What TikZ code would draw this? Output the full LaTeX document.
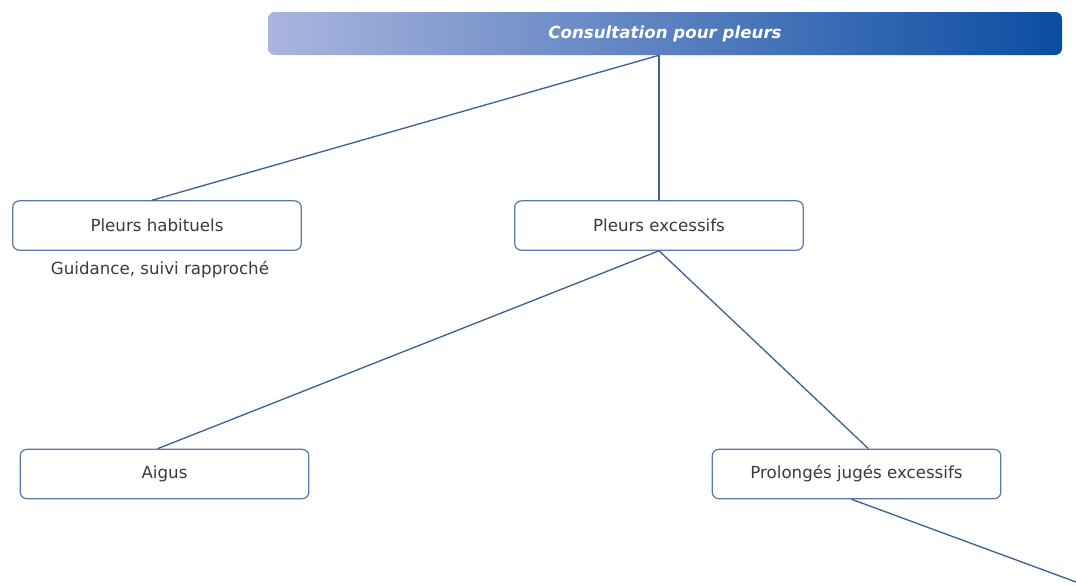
\documentclass[tikz,border=0pt]{standalone}
\usepackage{fontspec}
\setmainfont{DejaVu Sans}
\usetikzlibrary{calc}
\definecolor{barleft}{HTML}{AAB5DE}
\definecolor{barright}{HTML}{0B4DA2}
\definecolor{boxline}{HTML}{5B78A6}
\definecolor{linkline}{HTML}{3E6198}
\definecolor{txt}{HTML}{3A3A3A}
\tikzset{
  every node/.style={inner sep=0pt},
  titlebar/.style={rounded corners=5pt, left color=barleft, right color=barright,
    draw=none, text=white, font=\bfseries\itshape\fontsize{12.5}{14}\selectfont,
    minimum width=595.5pt, minimum height=32.25pt},
  stepbox/.style={draw=boxline, line width=0.9pt, rounded corners=5pt, fill=white,
    text=txt, font=\fontsize{12.5}{14}\selectfont,
    minimum width=216.5pt, minimum height=37pt},
  note/.style={text=txt, font=\fontsize{12.5}{14}\selectfont},
  link/.style={draw=linkline, line width=1pt}
}
\begin{document}
\begin{tikzpicture}[x=0.75pt,y=-0.75pt]
  \useasboundingbox (0,0) rectangle (1076,586);
  % nodes
  \node[titlebar] (top) at (665,33.5) {Consultation pour pleurs};
  \node[stepbox] (habituels) at (157,225.5) {Pleurs habituels};
  \node[stepbox] (excessifs) at (659,225.5) {Pleurs excessifs};
  \node[stepbox] (aigus) at (164.5,474) {Aigus};
  \node[stepbox] (prolonges) at (856.5,474) {Prolongés jugés excessifs};
  \node[note] (guidance) at (160,270) {Guidance, suivi rapproché};
  % attachment points of the branches
  \coordinate (root) at (excessifs.north |- top.south);
  \coordinate (habtop) at ($(habituels.north)+(-5,0)$);
  \coordinate (aigtop) at ($(aigus.north)+(-7,0)$);
  \coordinate (protop) at ($(prolonges.north)+(12,0)$);
  \coordinate (probot) at ($(prolonges.south)+(-5,0)$);
  \coordinate (away) at (1076,582);
  % connectors
  \draw[link] (root) -- (habtop);
  \draw[link] (root) -- (excessifs.north);
  \draw[link] (excessifs.south) -- (aigtop);
  \draw[link] (excessifs.south) -- (protop);
  \draw[link] (probot) -- (away);
\end{tikzpicture}
\end{document}
